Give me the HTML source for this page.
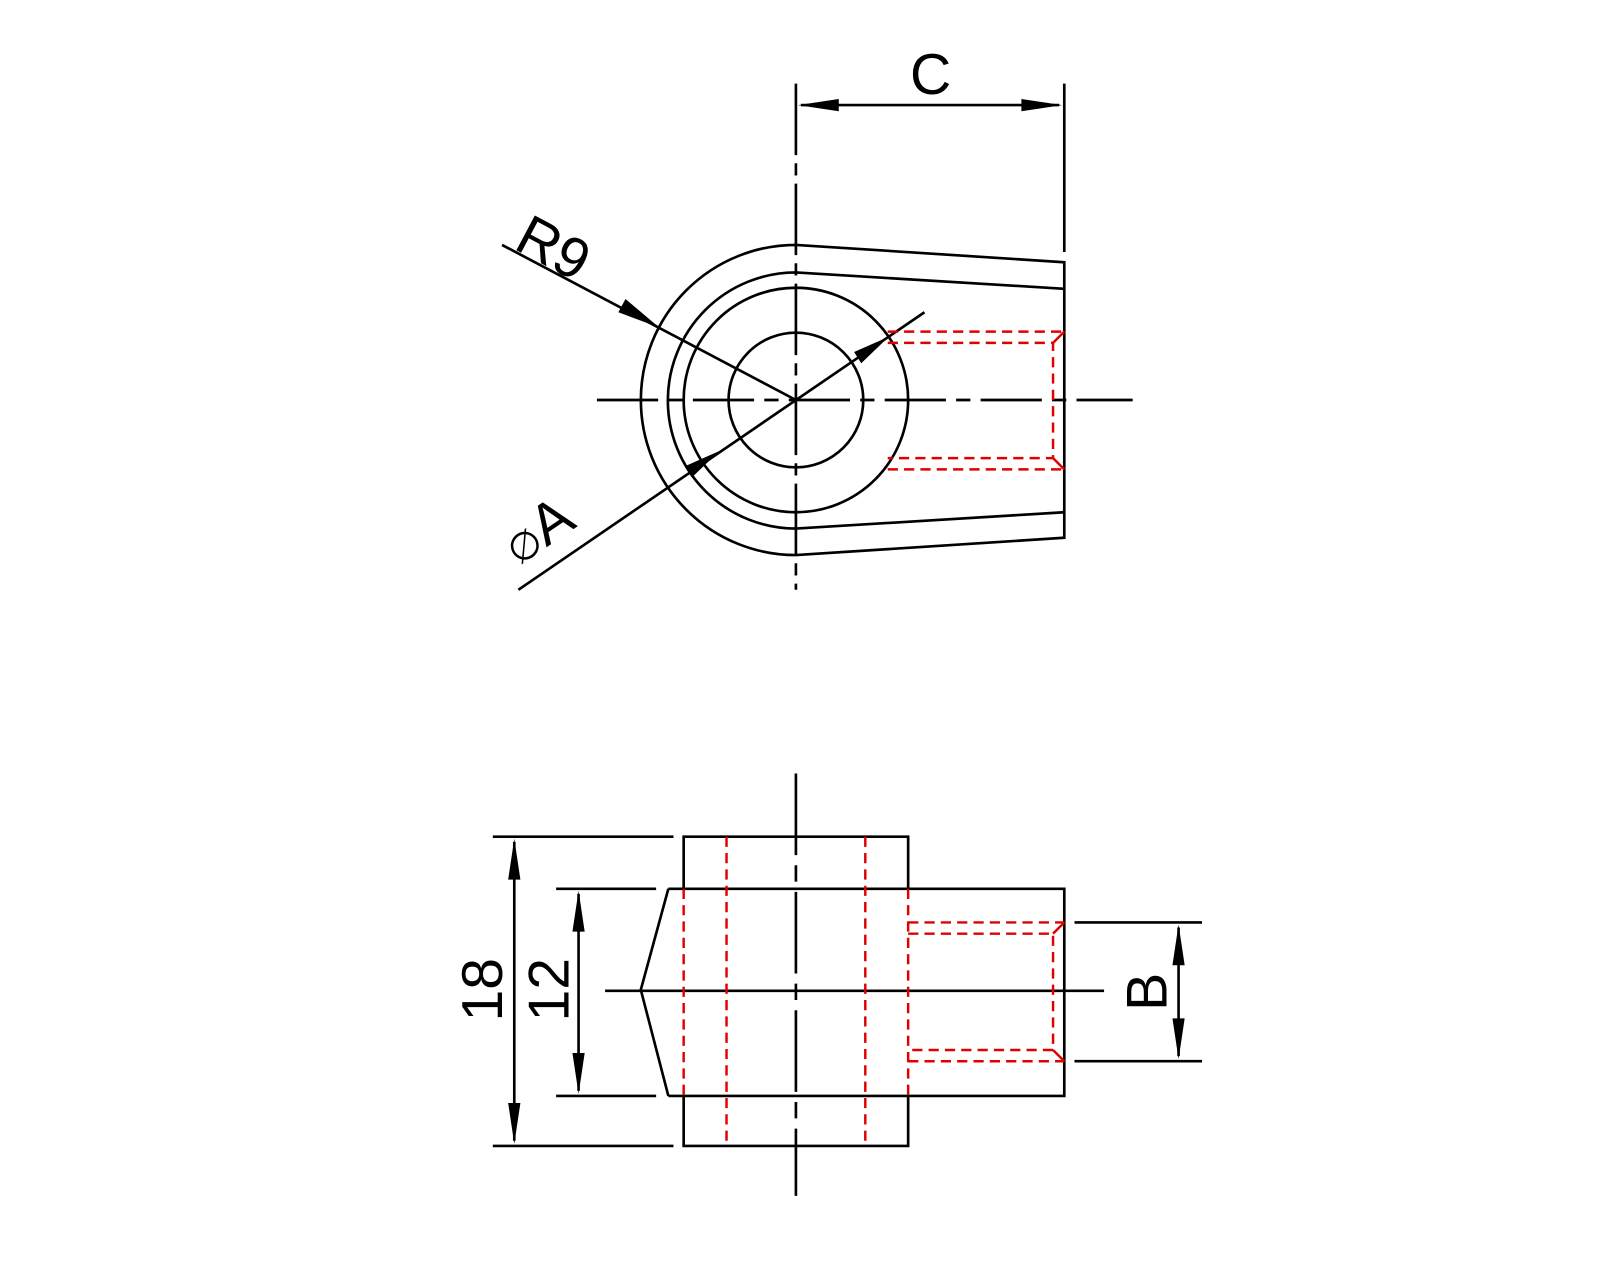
<!DOCTYPE html>
<html><head><meta charset="utf-8"><style>html,body{margin:0;padding:0;background:#fff}svg{display:block}</style></head>
<body>
<svg width="1600" height="1280" viewBox="0 0 1600 1280" xmlns="http://www.w3.org/2000/svg">
<g transform="scale(1.0204)">
<g fill="none" stroke="#000" stroke-width="2.6">
<line x1="780" y1="82" x2="780" y2="578" stroke-dasharray="70,8,12,8"/>
<line x1="1043" y1="82" x2="1043" y2="247"/>
<line x1="785" y1="103" x2="1038" y2="103"/>
<path d="M780,240 A152,152 0 0 0 780,544 L1043,527 L1043,257 Z"/>
<path d="M780,267 A125,125 0 0 0 780,518 L1043,502 M780,267 L1043,283"/>
<circle cx="780" cy="392" r="110"/>
<circle cx="780" cy="392" r="66"/>
<line x1="585" y1="392" x2="1110" y2="392" stroke-dasharray="60,10,14,10"/>
<line x1="492" y1="240" x2="780" y2="392"/>
<line x1="508" y1="578" x2="906" y2="306"/>
<line x1="780" y1="758" x2="780" y2="1172" stroke-dasharray="80,10,16,10"/>
<path d="M670,871 L670,820 L890,820 L890,871 M670,1074 L670,1123 L890,1123 L890,1074"/>
<path d="M655,871 L1043,871 L1043,1074 L655,1074 M655,871 L628,970 L655,1074"/>
<line x1="593" y1="971" x2="1082" y2="971"/>
<line x1="483" y1="820" x2="660" y2="820"/>
<line x1="483" y1="1123" x2="660" y2="1123"/>
<line x1="504" y1="825" x2="504" y2="1118"/>
<line x1="545" y1="871" x2="643" y2="871"/>
<line x1="545" y1="1074" x2="643" y2="1074"/>
<line x1="567" y1="876" x2="567" y2="1069"/>
<line x1="1053" y1="904" x2="1178" y2="904"/>
<line x1="1053" y1="1040" x2="1178" y2="1040"/>
<line x1="1155" y1="909" x2="1155" y2="1035"/>
</g>
<g fill="none" stroke="#e00000" stroke-width="2.4" stroke-dasharray="10,6">
<path d="M870,325 L1043,325 M870,460 L1043,460 M870,336 L1032,336 L1032,449 L870,449"/>
<path d="M1032,336 L1043,325 M1032,449 L1043,460" stroke-dasharray="none"/>
<line x1="712" y1="820" x2="712" y2="1123"/>
<line x1="848" y1="820" x2="848" y2="1123"/>
<line x1="670" y1="871" x2="670" y2="1074"/>
<line x1="890" y1="871" x2="890" y2="1074"/>
<path d="M890,904 L1043,904 M890,1040 L1043,1040 M890,915 L1032,915 L1032,1029 L890,1029"/>
<path d="M1032,915 L1043,904 M1032,1029 L1043,1040" stroke-dasharray="none"/>
</g>
<g fill="#000" stroke="none">
<polygon points="782,103 822,97 822,109"/>
<polygon points="1041,103 1001,97 1001,109"/>
<polygon points="646,321 606,306 613,293"/>
<polygon points="871,330 844,356 837,345"/>
<polygon points="705,442 678,468 671,457"/>
<polygon points="504,822 498,862 510,862"/>
<polygon points="504,1121 498,1081 510,1081"/>
<polygon points="567,873 561,913 573,913"/>
<polygon points="567,1072 561,1032 573,1032"/>
<polygon points="1155,906 1149,946 1161,946"/>
<polygon points="1155,1038 1149,998 1161,998"/>
</g>
<g font-family="Liberation Sans, sans-serif" font-size="56" fill="#000">
<text x="912" y="92" text-anchor="middle">C</text>
<text x="0" y="0" transform="translate(502,243) rotate(28)">R9</text>
<text x="0" y="0" transform="translate(508,555) rotate(-34)"><tspan font-size="38">∅</tspan>A</text>
<text x="0" y="0" transform="translate(492,970) rotate(-90)" text-anchor="middle">18</text>
<text x="0" y="0" transform="translate(557,970) rotate(-90)" text-anchor="middle">12</text>
<text x="0" y="0" transform="translate(1143,972) rotate(-90)" text-anchor="middle">B</text>
</g>
</g>
</svg>
</body></html>
